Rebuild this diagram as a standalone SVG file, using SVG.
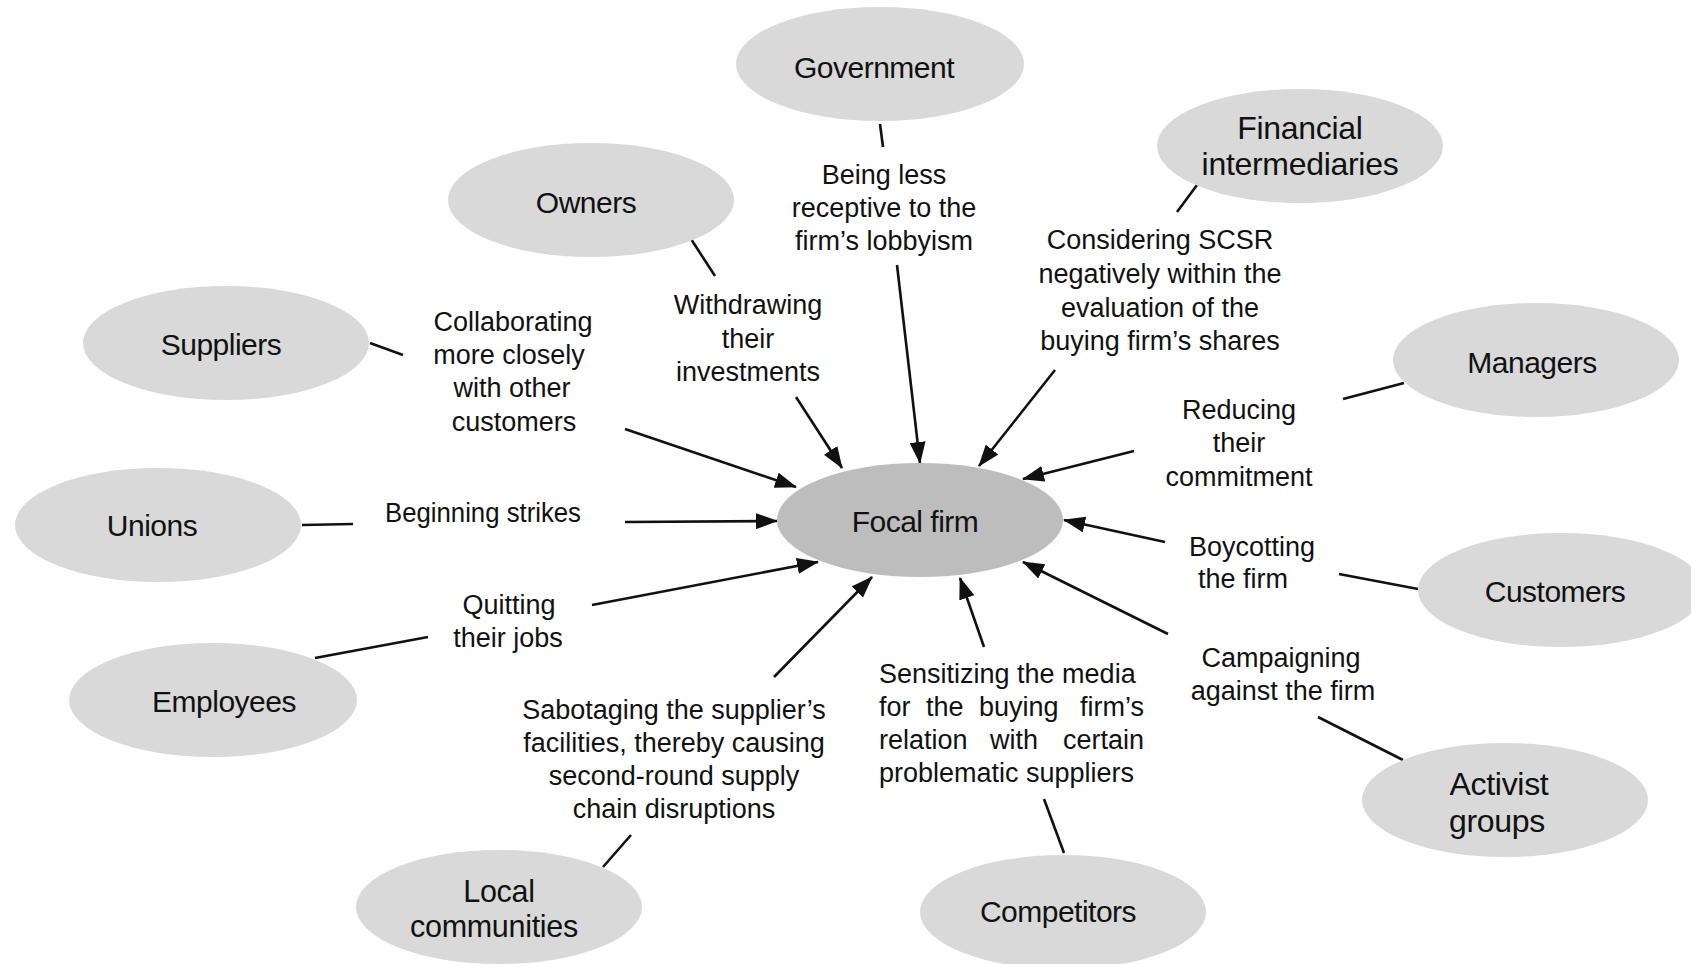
<svg xmlns="http://www.w3.org/2000/svg" width="1691" height="964" viewBox="0 0 1691 964">
<style>
.n{fill:#d9d9d9;}
.f{fill:#bdbdbd;}
.t{font-family:"Liberation Sans",Arial,sans-serif;fill:#111;text-anchor:middle;}
.nl{font-size:30px;letter-spacing:-0.5px;}
.nl2{font-size:32px;letter-spacing:-0.3px;}
.nl3{font-size:30.5px;letter-spacing:-0.3px;}
.el{font-size:27px;}
.c line{stroke:#111;stroke-width:2.6;fill:none;}
</style>
<defs>
<marker id="ah" markerUnits="userSpaceOnUse" markerWidth="22" markerHeight="16" refX="21" refY="8" orient="auto">
<path d="M0,0 L22,8 L0,16 z" fill="#111"/>
</marker>
</defs>
<rect width="1691" height="964" fill="#fff"/>

<g id="connectors" class="c">
<line x1="880" y1="124" x2="883" y2="147"/>
<line x1="691" y1="239" x2="715" y2="276"/>
<line x1="1197" y1="185" x2="1177" y2="212"/>
<line x1="370" y1="343" x2="403" y2="355"/>
<line x1="1404" y1="383" x2="1343" y2="399"/>
<line x1="302" y1="525" x2="353" y2="524"/>
<line x1="315" y1="658" x2="428" y2="637"/>
<line x1="1418" y1="589" x2="1339" y2="574"/>
<line x1="1403" y1="760" x2="1318" y2="717"/>
<line x1="603" y1="867" x2="631" y2="835"/>
<line x1="1064" y1="853" x2="1044" y2="799"/>
<line x1="897" y1="265" x2="920" y2="463" marker-end="url(#ah)"/>
<line x1="796" y1="397" x2="842" y2="468" marker-end="url(#ah)"/>
<line x1="625" y1="429" x2="796" y2="487" marker-end="url(#ah)"/>
<line x1="625" y1="522" x2="777" y2="521" marker-end="url(#ah)"/>
<line x1="592" y1="605" x2="818" y2="562" marker-end="url(#ah)"/>
<line x1="774" y1="677" x2="872" y2="577" marker-end="url(#ah)"/>
<line x1="984" y1="647" x2="960" y2="578" marker-end="url(#ah)"/>
<line x1="1168" y1="634" x2="1023" y2="562" marker-end="url(#ah)"/>
<line x1="1165" y1="542" x2="1064" y2="520" marker-end="url(#ah)"/>
<line x1="1134" y1="451" x2="1023" y2="479" marker-end="url(#ah)"/>
<line x1="1055" y1="370" x2="979" y2="466" marker-end="url(#ah)"/>
</g>

<g id="focal">
<ellipse class="f" cx="920" cy="520" rx="143" ry="57"/>
<text class="t nl" x="915" y="532">Focal firm</text>
</g>
<g id="government">
<ellipse class="n" cx="880" cy="64" rx="144" ry="57"/>
<text class="t nl" x="874" y="78">Government</text>
</g>
<g id="financial">
<ellipse class="n" cx="1300" cy="146" rx="143" ry="57"/>
<text class="t nl2" x="1300" y="139">Financial</text>
<text class="t nl2" x="1300" y="175">intermediaries</text>
</g>
<g id="owners">
<ellipse class="n" cx="591" cy="200" rx="143" ry="57"/>
<text class="t nl" x="586" y="213">Owners</text>
</g>
<g id="suppliers">
<ellipse class="n" cx="226" cy="343" rx="143" ry="57"/>
<text class="t nl" x="221" y="355">Suppliers</text>
</g>
<g id="managers">
<ellipse class="n" cx="1536" cy="360" rx="143" ry="57"/>
<text class="t nl" x="1532" y="373">Managers</text>
</g>
<g id="unions">
<ellipse class="n" cx="158" cy="525" rx="143" ry="57"/>
<text class="t nl" x="152" y="536">Unions</text>
</g>
<g id="customers">
<ellipse class="n" cx="1561" cy="590" rx="143" ry="57"/>
<text class="t nl" x="1555" y="602">Customers</text>
</g>
<g id="employees">
<ellipse class="n" cx="213" cy="700" rx="144" ry="57"/>
<text class="t nl" x="224" y="712">Employees</text>
</g>
<g id="activist">
<ellipse class="n" cx="1505" cy="800" rx="143" ry="57"/>
<text class="t nl2" x="1499" y="795">Activist</text>
<text class="t nl2" x="1497" y="832">groups</text>
</g>
<g id="local">
<ellipse class="n" cx="499" cy="907" rx="143" ry="57"/>
<text class="t nl3" x="499" y="902">Local</text>
<text class="t nl3" x="494" y="937">communities</text>
</g>
<g id="competitors">
<ellipse class="n" cx="1063" cy="912" rx="143" ry="57"/>
<text class="t nl" x="1058" y="922">Competitors</text>
</g>

<g id="labels">
<text class="t el" x="884" y="184">Being less</text>
<text class="t el" x="884" y="217">receptive to the</text>
<text class="t el" x="884" y="250">firm’s lobbyism</text>

<text class="t el" x="748" y="314">Withdrawing</text>
<text class="t el" x="748" y="348">their</text>
<text class="t el" x="748" y="381">investments</text>

<text class="t el" x="513" y="331">Collaborating</text>
<text class="t el" x="509" y="364">more closely</text>
<text class="t el" x="512" y="397">with other</text>
<text class="t el" x="514" y="431">customers</text>

<text class="t el" x="483" y="522" textLength="196" lengthAdjust="spacingAndGlyphs">Beginning strikes</text>

<text class="t el" x="509" y="614">Quitting</text>
<text class="t el" x="508" y="647">their jobs</text>

<text class="t el" x="674" y="719">Sabotaging the supplier’s</text>
<text class="t el" x="674" y="752">facilities, thereby causing</text>
<text class="t el" x="674" y="785">second-round supply</text>
<text class="t el" x="674" y="818">chain disruptions</text>

<text class="t el" style="text-anchor:start" x="879" y="683">Sensitizing the media</text>
<text class="t el" style="text-anchor:start" y="716"><tspan x="879">for</tspan><tspan x="926">the</tspan><tspan x="979">buying</tspan></text>
<text class="t el" style="text-anchor:end" x="1144" y="716">firm’s</text>
<text class="t el" style="text-anchor:start" y="749"><tspan x="879">relation</tspan><tspan x="990">with</tspan></text>
<text class="t el" style="text-anchor:end" x="1144" y="749">certain</text>
<text class="t el" style="text-anchor:start" x="879" y="782">problematic suppliers</text>

<text class="t el" x="1281" y="667">Campaigning</text>
<text class="t el" x="1283" y="700">against the firm</text>

<text class="t el" x="1252" y="556">Boycotting</text>
<text class="t el" x="1243" y="588">the firm</text>

<text class="t el" x="1239" y="419">Reducing</text>
<text class="t el" x="1239" y="452">their</text>
<text class="t el" x="1239" y="486">commitment</text>

<text class="t el" x="1160" y="249">Considering SCSR</text>
<text class="t el" x="1160" y="283">negatively within the</text>
<text class="t el" x="1160" y="317">evaluation of the</text>
<text class="t el" x="1160" y="350">buying firm’s shares</text>
</g>
</svg>
